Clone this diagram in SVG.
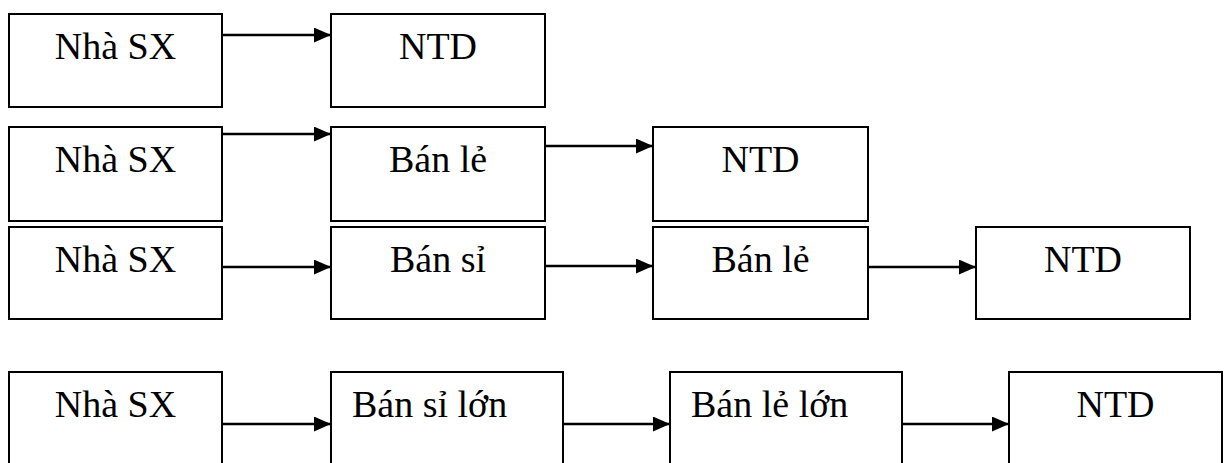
<svg xmlns="http://www.w3.org/2000/svg" width="1229" height="463" viewBox="0 0 1229 463">
  <style>
    .box { fill: #ffffff; stroke: #000000; stroke-width: 2; }
    text { font-family: 'Liberation Serif', 'Times New Roman', serif; font-size: 38px; fill: #000000; }
    .mid { text-anchor: middle; }
    .link { stroke: #000000; stroke-width: 2.6; fill: none; marker-end: url(#head); }
  </style>
  <defs>
    <marker id="head" viewBox="0 0 16 14" refX="16" refY="7" markerWidth="17" markerHeight="15" markerUnits="userSpaceOnUse" orient="auto">
      <path d="M0,0 L16,7 L0,14 Z" fill="#000000"/>
    </marker>
  </defs>
  <rect width="1229" height="463" fill="#ffffff"/>

  <!-- Chain 1: producer straight to consumer -->
  <g id="r1-producer">
    <rect class="box" x="9" y="14" width="213" height="93"/>
    <text class="mid" x="115.5" y="59">Nhà SX</text>
  </g>
  <g id="r1-consumer">
    <rect class="box" x="331" y="14" width="214" height="93"/>
    <text class="mid" x="438" y="59">NTD</text>
  </g>

  <!-- Chain 2: via retailer -->
  <g id="r2-producer">
    <rect class="box" x="9" y="127" width="213" height="94"/>
    <text class="mid" x="115.5" y="172">Nhà SX</text>
  </g>
  <g id="r2-retail">
    <rect class="box" x="331" y="127" width="214" height="94"/>
    <text class="mid" x="438" y="172">Bán lẻ</text>
  </g>
  <g id="r2-consumer">
    <rect class="box" x="653" y="127" width="215" height="94"/>
    <text class="mid" x="760.5" y="172">NTD</text>
  </g>

  <!-- Chain 3: via wholesaler and retailer -->
  <g id="r3-producer">
    <rect class="box" x="9" y="227" width="213" height="92"/>
    <text class="mid" x="115.5" y="272">Nhà SX</text>
  </g>
  <g id="r3-wholesale">
    <rect class="box" x="331" y="227" width="214" height="92"/>
    <text class="mid" x="438" y="272">Bán sỉ</text>
  </g>
  <g id="r3-retail">
    <rect class="box" x="653" y="227" width="215" height="92"/>
    <text class="mid" x="760.5" y="272">Bán lẻ</text>
  </g>
  <g id="r3-consumer">
    <rect class="box" x="976" y="227" width="214" height="92"/>
    <text class="mid" x="1083" y="272">NTD</text>
  </g>

  <!-- Chain 4: via large wholesaler and large retailer -->
  <g id="r4-producer">
    <rect class="box" x="9" y="372" width="213" height="110"/>
    <text class="mid" x="115.5" y="417">Nhà SX</text>
  </g>
  <g id="r4-wholesale">
    <rect class="box" x="331" y="372" width="232" height="110"/>
    <text x="352" y="417">Bán sỉ lớn</text>
  </g>
  <g id="r4-retail">
    <rect class="box" x="670" y="372" width="232" height="110"/>
    <text x="691" y="417">Bán lẻ lớn</text>
  </g>
  <g id="r4-consumer">
    <rect class="box" x="1009" y="372" width="213" height="110"/>
    <text class="mid" x="1115.5" y="417">NTD</text>
  </g>

  <g id="connectors">
    <line class="link" x1="222" y1="35" x2="331" y2="35"/>

    <line class="link" x1="222" y1="134" x2="331" y2="134"/>
    <line class="link" x1="545" y1="146" x2="653" y2="146"/>

    <line class="link" x1="222" y1="267" x2="331" y2="267"/>
    <line class="link" x1="545" y1="266" x2="653" y2="266"/>
    <line class="link" x1="868" y1="267" x2="976" y2="267"/>

    <line class="link" x1="222" y1="424" x2="331" y2="424"/>
    <line class="link" x1="563" y1="424" x2="670" y2="424"/>
    <line class="link" x1="902" y1="424" x2="1009" y2="424"/>
  </g>
</svg>
